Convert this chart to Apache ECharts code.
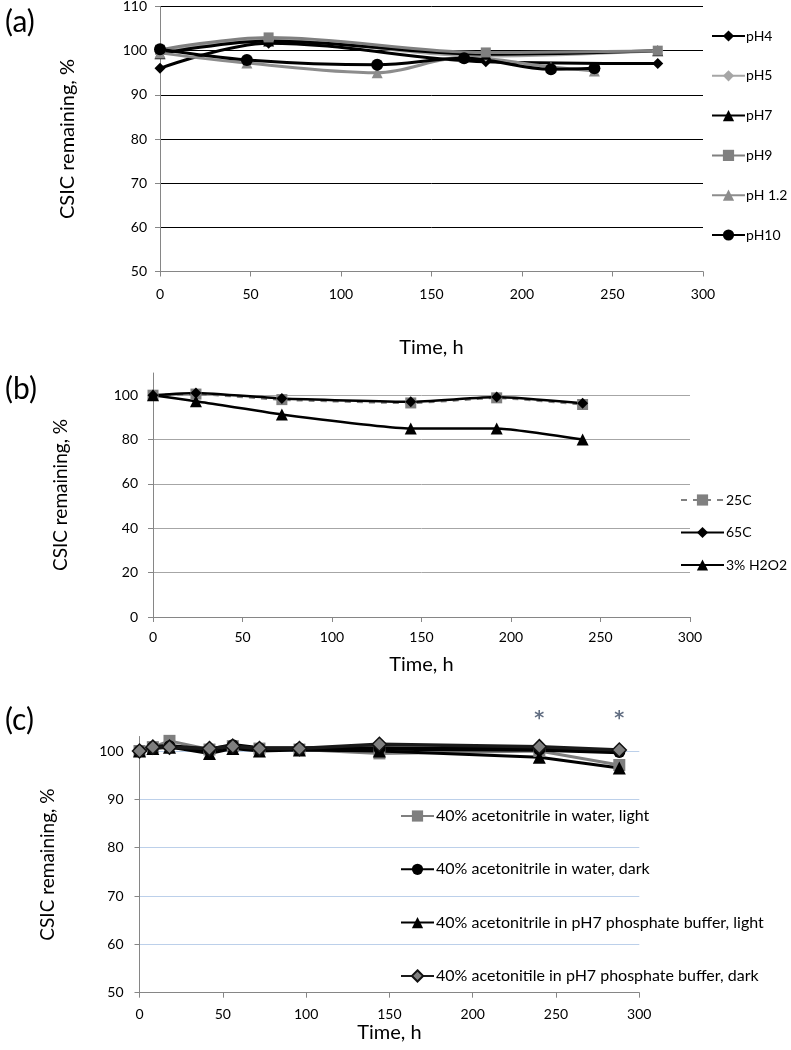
<!DOCTYPE html>
<html>
<head>
<meta charset="utf-8">
<script src="https://cdn.jsdelivr.net/npm/echarts@6/dist/echarts.min.js"></script>
<style>
html,body{margin:0;padding:0;background:#fff;}
#chart{width:791px;height:1050px;}
</style>
</head>
<body>
<div id="chart"></div>
<script>
// ---------- Panel (a) ----------
const tA_pH4 = [0, 60, 180, 275];
const vA_pH4 = [96.0, 101.7, 97.5, 97.1];
const tA_pH5 = [0, 60, 180, 275];
const vA_pH5 = [99.8, 102.4, 98.8, 100.0];
const tA_pH7 = [0, 60, 180, 275];
const vA_pH7 = [99.3, 102.2, 99.2, 100.0];
const tA_pH9 = [0, 60, 180, 275];
const vA_pH9 = [100.2, 103.0, 99.6, 100.0];
const tA_pH12 = [0, 48, 120, 168, 216, 240];
const vA_pH12 = [99.5, 97.2, 95.0, 98.5, 96.3, 95.4];
const tA_pH10 = [0, 48, 120, 168, 216, 240];
const vA_pH10 = [100.3, 97.9, 96.8, 98.3, 95.8, 96.0];
const namesA = ['pH4', 'pH5', 'pH7', 'pH9', 'pH 1.2', 'pH10'];

// ---------- Panel (b) ----------
const tB = [0, 24, 72, 144, 192, 240];
const vB_25C = [100.0, 100.5, 98.0, 96.5, 98.8, 95.8];
const vB_65C = [100.0, 101.0, 98.5, 97.0, 99.2, 96.4];
const vB_H2O2 = [100.0, 97.3, 91.3, 85.0, 85.0, 80.0];
const namesB = ['25C', '65C', '3% H2O2'];

// ---------- Panel (c) ----------
const tC = [0, 8, 18, 42, 56, 72, 96, 144, 240, 288];
const vC_waterLight = [100.0, 100.8, 102.1, 100.3, 101.0, 100.5, 100.3, 99.5, 100.0, 97.1];
const vC_waterDark = [100.0, 100.8, 101.0, 100.2, 101.2, 100.5, 100.5, 100.5, 100.3, 99.8];
const vC_bufLight = [100.0, 100.5, 100.8, 99.5, 100.5, 100.0, 100.2, 100.0, 98.7, 96.5];
const vC_bufDark = [100.0, 100.8, 100.8, 100.5, 101.0, 100.5, 100.5, 101.4, 100.9, 100.2];
const namesC = ['40% acetonitrile in water, light', '40% acetonitrile in water, dark',
  '40% acetonitrile in pH7 phosphate buffer, light', '40% acetonitile in pH7 phosphate buffer, dark'];
const starTimes = [240, 288];
const starLevel = 106.6;

const xTitle = 'Time, h';
const yTitle = 'CSIC remaining, %';

const pairs = (t, v) => t.map((x, i) => [x, v[i]]);
const FONT = 'Lato';
const AX = '#868686';

function xAxis(gi, nameGap, margin) {
  return {
    type: 'value', gridIndex: gi, min: 0, max: 300, interval: 50,
    name: xTitle, nameLocation: 'middle', nameGap: nameGap,
    nameTextStyle: {fontFamily: FONT, fontSize: 20, color: '#000'},
    axisLine: {show: true, onZero: false, lineStyle: {color: AX, width: 1}},
    axisTick: {show: true, inside: false, length: 5, lineStyle: {color: AX}},
    axisLabel: {fontFamily: FONT, fontSize: 14, color: '#000', margin: margin},
    splitLine: {show: false}
  };
}
function yAxis(gi, min, max, interval, nameGap, margin, grid, nameSize) {
  return {
    type: 'value', gridIndex: gi, min: min, max: max, interval: interval,
    name: yTitle, nameLocation: 'middle', nameGap: nameGap, nameRotate: 90,
    nameTextStyle: {fontFamily: FONT, fontSize: nameSize, color: '#000'},
    axisLine: {show: true, lineStyle: {color: AX, width: 1}},
    axisTick: {show: true, inside: false, length: 5, lineStyle: {color: AX}},
    axisLabel: {fontFamily: FONT, fontSize: 14, color: '#000', margin: margin, showMaxLabel: grid.showMax},
    splitLine: {show: true, lineStyle: {color: grid.colors, width: 1}}
  };
}

function lineA(name, t, v, color, symbol, size) {
  return {
    name: name, type: 'line', xAxisIndex: 0, yAxisIndex: 0, data: pairs(t, v),
    smooth: 0.35, symbol: symbol, symbolSize: size,
    lineStyle: {color: color, width: 3}, itemStyle: {color: color},
    z: 3
  };
}

const series = [
  lineA('pH4', tA_pH4, vA_pH4, '#000000', 'diamond', 11),
  lineA('pH5', tA_pH5, vA_pH5, '#a6a6a6', 'diamond', 11),
  lineA('pH7', tA_pH7, vA_pH7, '#000000', 'triangle', 11),
  lineA('pH9', tA_pH9, vA_pH9, '#808080', 'rect', 10),
  lineA('pH 1.2', tA_pH12, vA_pH12, '#8c8c8c', 'triangle', 11),
  lineA('pH10', tA_pH10, vA_pH10, '#000000', 'circle', 12),
  {
    name: '25C', type: 'line', xAxisIndex: 1, yAxisIndex: 1, data: pairs(tB, vB_25C),
    smooth: 0.15, symbol: 'rect', symbolSize: 11,
    lineStyle: {color: '#808080', width: 2.5, type: [6, 6]}, itemStyle: {color: '#808080'}
  },
  {
    name: '65C', type: 'line', xAxisIndex: 1, yAxisIndex: 1, data: pairs(tB, vB_65C),
    smooth: 0.15, symbol: 'diamond', symbolSize: 11,
    lineStyle: {color: '#000', width: 2.5}, itemStyle: {color: '#000'}
  },
  {
    name: '3% H2O2', type: 'line', xAxisIndex: 1, yAxisIndex: 1, data: pairs(tB, vB_H2O2),
    smooth: 0.15, symbol: 'triangle', symbolSize: 12,
    lineStyle: {color: '#000', width: 2.5}, itemStyle: {color: '#000'}
  },
  {
    name: namesC[0], type: 'line', xAxisIndex: 2, yAxisIndex: 2, data: pairs(tC, vC_waterLight),
    symbol: 'rect', symbolSize: 12,
    lineStyle: {color: '#7f7f7f', width: 3}, itemStyle: {color: '#7f7f7f'}
  },
  {
    name: namesC[1], type: 'line', xAxisIndex: 2, yAxisIndex: 2, data: pairs(tC, vC_waterDark),
    symbol: 'circle', symbolSize: 12,
    lineStyle: {color: '#000', width: 4.5}, itemStyle: {color: '#000'}
  },
  {
    name: namesC[2], type: 'line', xAxisIndex: 2, yAxisIndex: 2, data: pairs(tC, vC_bufLight),
    symbol: 'triangle', symbolSize: 13,
    lineStyle: {color: '#000', width: 3}, itemStyle: {color: '#000'}
  },
  {
    name: namesC[3], type: 'line', xAxisIndex: 2, yAxisIndex: 2, data: pairs(tC, vC_bufDark),
    symbol: 'diamond', symbolSize: 14,
    lineStyle: {color: '#1a1a1a', width: 3.5}, itemStyle: {color: '#7f7f7f', borderColor: '#111', borderWidth: 1.5}
  },
  {
    name: 'significance', type: 'scatter', xAxisIndex: 2, yAxisIndex: 2, clip: false,
    data: starTimes.map(t => [t, starLevel]), symbolSize: 1,
    itemStyle: {color: 'rgba(0,0,0,0)'},
    label: {show: true, position: 'inside', formatter: '*', color: '#3b4a63', fontSize: 19, fontFamily: 'DejaVu Sans', fontWeight: 'bold'},
    silent: true, z: 5
  }
];

const chart = echarts.init(document.getElementById('chart'), null, {renderer: 'canvas'});
chart.setOption({
  animation: false,
  backgroundColor: '#fff',
  title: [
    {text: '(a)', left: 0, top: 2, textStyle: {fontFamily: FONT, fontSize: 30, fontWeight: 'normal', color: '#000'}},
    {text: '(b)', left: 0, top: 369, textStyle: {fontFamily: FONT, fontSize: 30, fontWeight: 'normal', color: '#000'}},
    {text: '(c)', left: 0, top: 700, textStyle: {fontFamily: FONT, fontSize: 30, fontWeight: 'normal', color: '#000'}}
  ],
  grid: [
    {left: 160, right: 88, top: 6.5, height: 265, outerBoundsMode: 'none'},
    {left: 153, right: 101, top: 373, height: 244, outerBoundsMode: 'none'},
    {left: 139.5, right: 151.7, top: 736.5, height: 256.2, outerBoundsMode: 'none'}
  ],
  xAxis: [xAxis(0, 66, 16), xAxis(1, 38, 13), xAxis(2, 30, 15)],
  yAxis: [
    yAxis(0, 50, 110, 10, 82, 13, {colors: ['#000'], showMax: true}, 20),
    yAxis(1, 0, 110, 20, 83, 15, {colors: ['transparent', '#a6a6a6', '#a6a6a6', '#a6a6a6', '#a6a6a6', '#a6a6a6', 'transparent'], showMax: false}, 19),
    yAxis(2, 50, 103, 10, 82, 16, {colors: ['transparent', '#bcd0ea', '#bcd0ea', '#bcd0ea', '#bcd0ea', '#bcd0ea', 'transparent'], showMax: false}, 19)
  ],
  legend: [
    {
      data: namesA, orient: 'vertical', left: 711, top: 29, padding: 0, itemWidth: 33, itemHeight: 14, itemGap: 25.8,
      textStyle: {fontFamily: FONT, fontSize: 14, lineHeight: 14, color: '#000', padding: [0, 0, 0, -4]}, selectedMode: false
    },
    {
      data: namesB, orient: 'vertical', left: 680, top: 493, padding: 0, itemWidth: 43, itemHeight: 14, itemGap: 18.5,
      textStyle: {fontFamily: FONT, fontSize: 14, lineHeight: 14, color: '#000', padding: [0, 0, 0, -3]}, selectedMode: false
    },
    {
      data: namesC, orient: 'vertical', left: 400, top: 808, padding: 0, itemWidth: 33, itemHeight: 14, itemGap: 37.3,
      textStyle: {fontFamily: FONT, fontSize: 16, lineHeight: 14, color: '#000', padding: [0, 0, 0, -3]}, selectedMode: false
    }
  ],
  series: series
});
</script>
</body>
</html>
